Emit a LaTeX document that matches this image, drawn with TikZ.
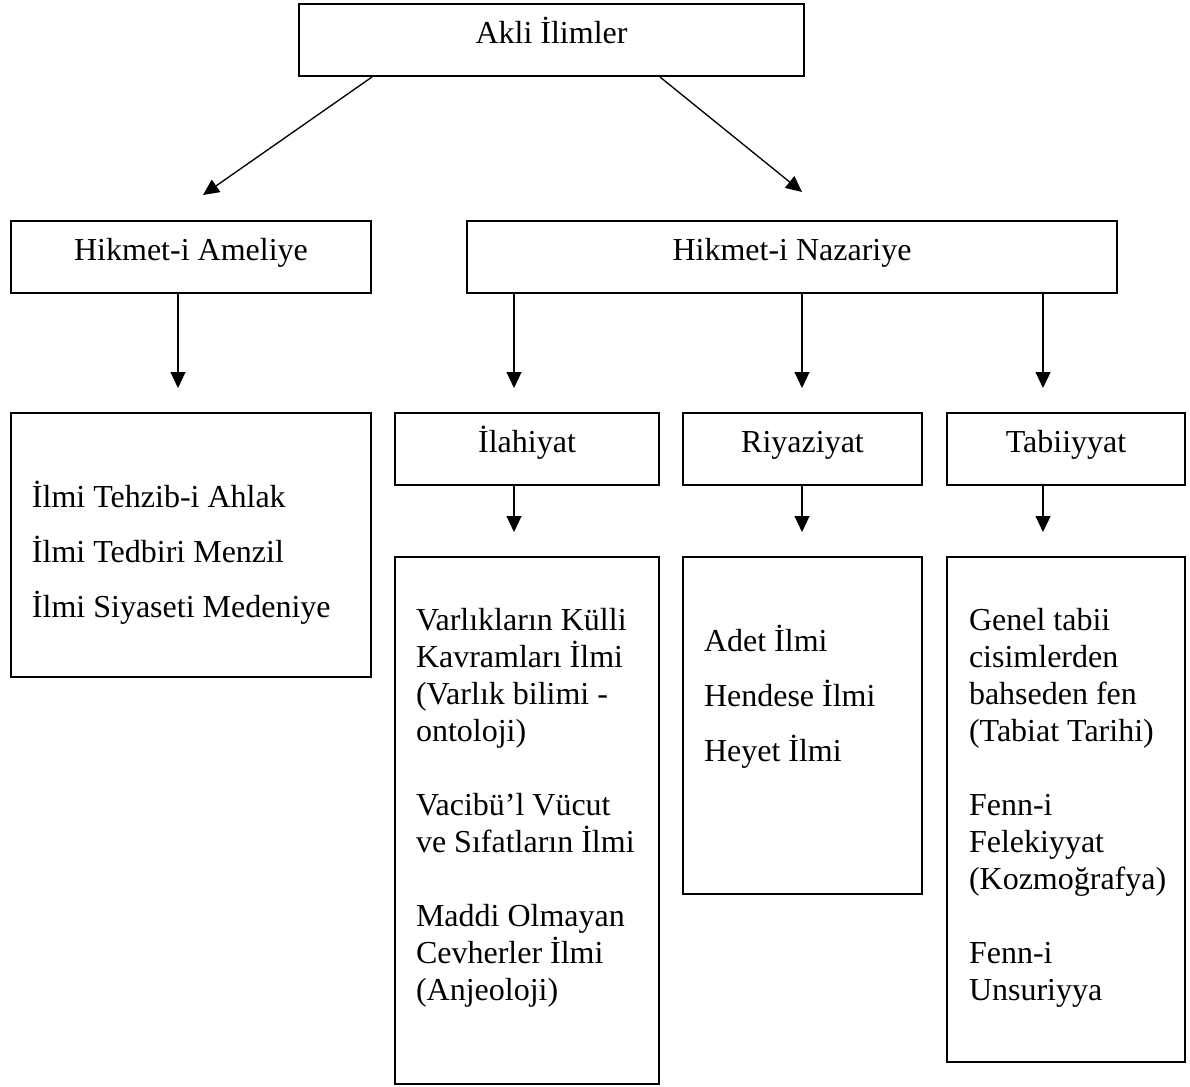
\documentclass[tikz,border=0pt]{standalone}
\usepackage{fontspec}
\setmainfont{Liberation Serif}
\usepackage{tikz}
\usetikzlibrary{arrows.meta}
\def\px{0.375pt}

\begin{document}
\begin{tikzpicture}[x=\px, y=-\px, line width=0.75pt]
    \tikzstyle{kutu}=[draw, anchor=north west, inner sep=0pt]
    \tikzstyle{baslik}=[kutu, minimum height=27pt, text height=8.4pt, text depth=5.8pt, font=\fontsize{12pt}{13.875pt}\selectfont]
    \tikzstyle{yazi}=[align=left, anchor=base west, inner sep=0pt]
    \tikzstyle{tek}=[yazi, font=\fontsize{12pt}{13.875pt}\selectfont]
    \tikzstyle{bucuk}=[yazi, font=\fontsize{12pt}{20.625pt}\selectfont]
    \tikzstyle{ok}=[-{Triangle[length=6pt, width=5.6pt]}, line width=0.5pt]

    \useasboundingbox (0,0) rectangle (1190,1086);

    % Draw the boxes of the top two rows
    \node[baslik, minimum width=505*\px] (akli) at (298,3) {Akli İlimler};
    \node[baslik, minimum width=360*\px] (ameliye) at (10,220) {Hikmet-i Ameliye};
    \node[baslik, minimum width=650*\px] (nazariye) at (466,220) {Hikmet-i Nazariye};

    % Draw the three branches of Hikmet-i Nazariye
    \foreach \name/\x/\w/\metin in {ilahiyat/394/264/İlahiyat, riyaziyat/682/239/Riyaziyat, tabiiyyat/946/238/Tabiiyyat}
        \node[baslik, minimum width=\w*\px] (\name) at (\x,412) {\metin};

    % Draw the content boxes
    \node[kutu, minimum width=360*\px, minimum height=264*\px] (ameliye-k) at (10,412) {};
    \node[kutu, minimum width=264*\px, minimum height=527*\px] (ilahiyat-k) at (394,556) {};
    \node[kutu, minimum width=239*\px, minimum height=337*\px] (riyaziyat-k) at (682,556) {};
    \node[kutu, minimum width=238*\px, minimum height=505*\px] (tabiiyyat-k) at (946,556) {};

    % Write the texts of the content boxes (base = last line)
    \node[bucuk] (ameliye-t) at ([shift={(21,205)}]ameliye-k.north west)
        {İlmi Tehzib-i Ahlak\\İlmi Tedbiri Menzil\\İlmi Siyaseti Medeniye};
    \node[tek] (ilahiyat-t) at ([shift={(21,444)}]ilahiyat-k.north west)
        {Varlıkların Külli\\Kavramları İlmi\\(Varlık bilimi -\\ontoloji)\\[13.875pt]
         Vacibü’l Vücut\\ve Sıfatların İlmi\\[13.875pt]
         Maddi Olmayan\\Cevherler İlmi\\(Anjeoloji)};
    \node[bucuk] (riyaziyat-t) at ([shift={(21,205)}]riyaziyat-k.north west)
        {Adet İlmi\\Hendese İlmi\\Heyet İlmi};
    \node[tek] (tabiiyyat-t) at ([shift={(22,444)}]tabiiyyat-k.north west)
        {Genel tabii\\cisimlerden\\bahseden fen\\(Tabiat Tarihi)\\[13.875pt]
         Fenn-i\\Felekiyyat\\(Kozmoğrafya)\\[13.875pt]
         Fenn-i\\Unsuriyya};

    % Connect Akli Ilimler with its two parts
    \coordinate (ameliye-uc) at (203,195);
    \coordinate (nazariye-uc) at (802,192);
    \draw[ok] (akli.south -| ameliye.east) -- (ameliye-uc);
    \draw[ok] (akli.south -| ilahiyat.east) -- (nazariye-uc);

    % Connect every box with the box below it
    \foreach \kaynak/\hedef/\x in {ameliye/ameliye-k/178, nazariye/ilahiyat/514,
            nazariye/riyaziyat/802, nazariye/tabiiyyat/1043, ilahiyat/ilahiyat-k/514,
            riyaziyat/riyaziyat-k/802, tabiiyyat/tabiiyyat-k/1043}
        \draw[ok, shorten >=9pt] (\kaynak.south -| \x,0) -- (\hedef.north -| \x,0);

\end{tikzpicture}
\end{document}
